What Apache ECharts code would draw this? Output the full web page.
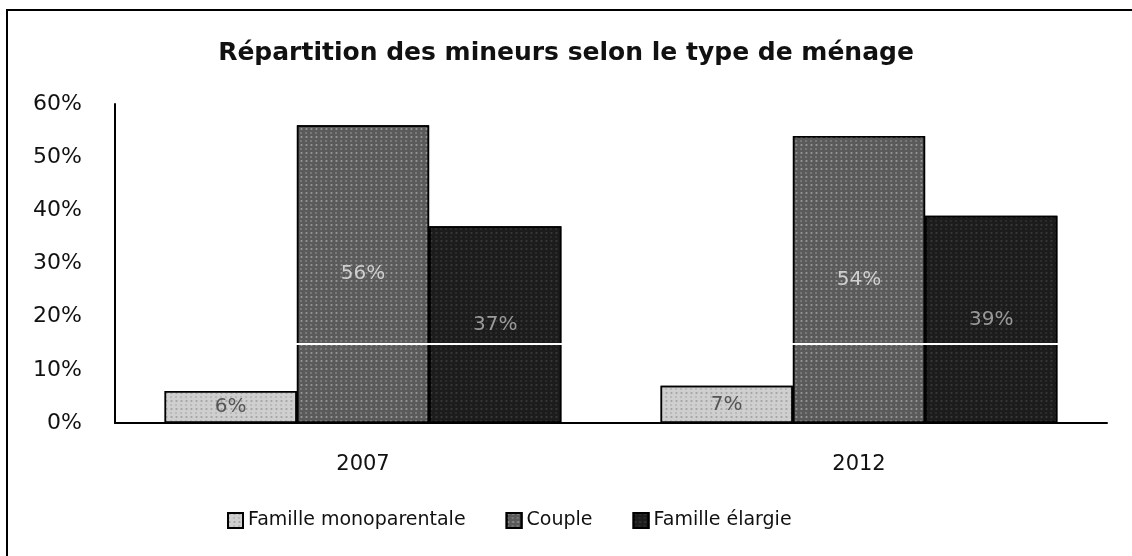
<!DOCTYPE html>
<html>
<head>
<meta charset="utf-8">
<script src="https://cdn.jsdelivr.net/npm/echarts@6/dist/echarts.min.js"></script>
<style>
  html, body { margin: 0; padding: 0; background: #fff; }
  #main { width: 1132px; height: 556px; }
</style>
</head>
<body>
<div id="main"></div>
<script>
// données
var years = ['2007', '2012'];
var monoparentale = [6, 7];
var couple = [56, 54];
var elargie = [37, 39];
var yTicks = [0, 10, 20, 30, 40, 50, 60];

var font = 'DejaVu Sans';
var chart = echarts.init(document.getElementById('main'));

function speckle(col) {
  return {
    symbol: 'rect',
    symbolSize: 0.6,
    dashArrayX: [[2, 3], [3, 2]],
    dashArrayY: [2, 2],
    rotation: 0,
    color: col
  };
}

var labelBase = {
  show: true,
  position: 'inside',
  fontFamily: font,
  fontSize: 20,
  formatter: '{c}%'
};

var option = {
  animation: false,
  backgroundColor: '#fff',
  title: {
    text: 'Répartition des mineurs selon le type de ménage',
    left: 'center',
    top: 36,
    textStyle: { fontFamily: font, fontSize: 25, fontWeight: 'bold', color: '#111' }
  },
  grid: { left: 115, right: 25, top: 104, bottom: 133, containLabel: false },
  legend: {
    bottom: 21,
    left: 222,
    itemWidth: 15,
    itemHeight: 15,
    itemGap: 40,
    icon: 'rect',
    textStyle: { fontFamily: font, fontSize: 19, color: '#111' },
    data: ['Famille monoparentale', 'Couple', 'Famille élargie']
  },
  xAxis: {
    type: 'category',
    data: years,
    z: 5,
    axisTick: { show: false },
    axisLine: { lineStyle: { color: '#000', width: 2 } },
    axisLabel: { fontFamily: font, fontSize: 21, color: '#111', margin: 31 }
  },
  yAxis: {
    type: 'value',
    min: yTicks[0],
    max: yTicks[yTicks.length - 1],
    interval: 10,
    z: 5,
    splitLine: { show: false },
    axisTick: { show: false },
    axisLine: { show: true, lineStyle: { color: '#000', width: 2 } },
    axisLabel: {
      fontFamily: font, fontSize: 22, color: '#111', margin: 33,
      padding: [8, 0, 0, 0],
      formatter: '{value}%'
    }
  },
  series: [
    {
      name: 'Famille monoparentale',
      type: 'bar',
      barGap: '0%',
      barCategoryGap: '20%',
      data: monoparentale,
      itemStyle: { color: '#cfcfcf', borderColor: '#000', borderWidth: 1.5, decal: speckle('rgba(80,80,80,0.55)') },
      label: Object.assign({}, labelBase, { color: '#555' })
    },
    {
      name: 'Couple',
      type: 'bar',
      data: couple,
      itemStyle: { color: '#5a5a5a', borderColor: '#000', borderWidth: 1.5, decal: speckle('rgba(255,255,255,0.6)') },
      label: Object.assign({}, labelBase, { color: '#cfcfcf' })
    },
    {
      name: 'Famille élargie',
      type: 'bar',
      data: elargie,
      itemStyle: { color: '#1c1c1c', borderColor: '#000', borderWidth: 1.5, decal: speckle('rgba(255,255,255,0.22)') },
      label: Object.assign({}, labelBase, { color: '#9a9a9a' }),
      markLine: {
        silent: true,
        symbol: 'none',
        label: { show: false },
        lineStyle: { color: '#fff', width: 2, type: 'solid' },
        data: [{ yAxis: 15 }]
      }
    }
  ],
  graphic: [
    {
      type: 'rect',
      shape: { x: 7, y: 10, width: 1140, height: 560 },
      style: { fill: 'none', stroke: '#000', lineWidth: 2 },
      silent: true
    }
  ]
};

chart.setOption(option);
</script>
</body>
</html>
